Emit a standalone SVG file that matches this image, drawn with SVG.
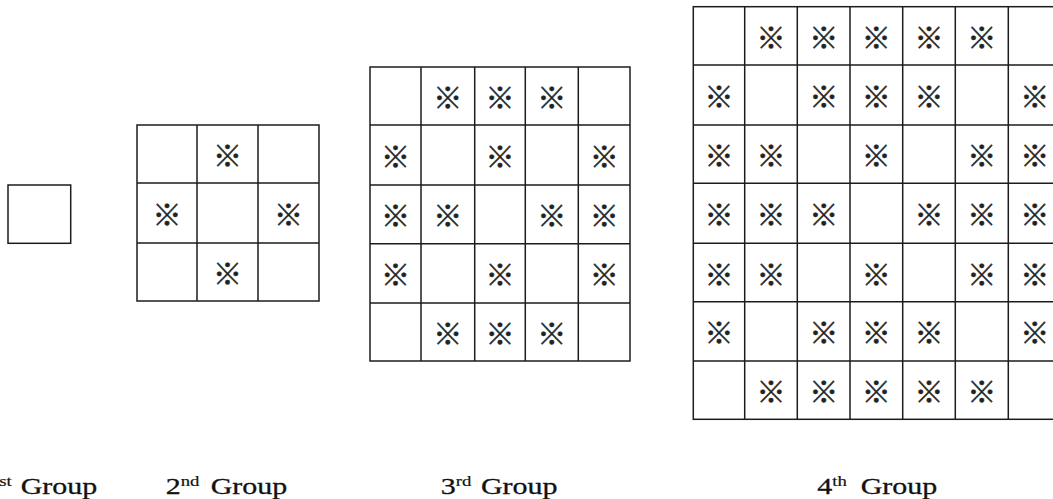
<svg xmlns="http://www.w3.org/2000/svg" width="1053" height="499" viewBox="0 0 1053 499">
<style>
.grid{fill:none;stroke:#1c1c1c;stroke-width:1.5}
.m{font-family:"Noto Sans CJK JP","DejaVu Sans",sans-serif;font-size:29px;fill:#222;stroke:#222;stroke-width:0.5;text-anchor:middle;dominant-baseline:central}
.lbl{font-family:"Liberation Serif","Times New Roman",serif;font-size:24px;fill:#111;stroke:#111;stroke-width:0.3}
.sup{font-size:15px;stroke-width:0.2}
</style>
<rect width="1053" height="499" fill="#fff"/>
<g id="group1">
<rect class="grid" x="8" y="185" width="62.7" height="58.3"/>
</g>
<g id="group2">
<rect class="grid" x="137" y="125" width="182" height="176"/>
<path class="grid" d="M197,125V301M258,125V301M137,183H319M137,243H319"/>
<text class="m" x="227.5" y="154">※</text>
<text class="m" x="167" y="213">※</text>
<text class="m" x="288.5" y="213">※</text>
<text class="m" x="227.5" y="272">※</text>
</g>
<g id="group3">
<rect class="grid" x="370" y="67" width="260" height="294"/>
<path class="grid" d="M421,67V361M474.7,67V361M525.3,67V361M578.3,67V361M370,125H630M370,185H630M370,243.7H630M370,303H630"/>
<text class="m" x="447.8" y="96">※</text>
<text class="m" x="500" y="96">※</text>
<text class="m" x="551.8" y="96">※</text>
<text class="m" x="395.5" y="155">※</text>
<text class="m" x="500" y="155">※</text>
<text class="m" x="604.2" y="155">※</text>
<text class="m" x="395.5" y="214.3">※</text>
<text class="m" x="447.8" y="214.3">※</text>
<text class="m" x="551.8" y="214.3">※</text>
<text class="m" x="604.2" y="214.3">※</text>
<text class="m" x="395.5" y="273.3">※</text>
<text class="m" x="500" y="273.3">※</text>
<text class="m" x="604.2" y="273.3">※</text>
<text class="m" x="447.8" y="332">※</text>
<text class="m" x="500" y="332">※</text>
<text class="m" x="551.8" y="332">※</text>
</g>
<g id="group4">
<rect class="grid" x="693.3" y="6.7" width="367.7" height="412.6"/>
<path class="grid" d="M744.7,6.7V419.3M797.3,6.7V419.3M850,6.7V419.3M902.7,6.7V419.3M955.3,6.7V419.3M1008.3,6.7V419.3M693.3,65H1061M693.3,125H1061M693.3,183.3H1061M693.3,243.3H1061M693.3,301.7H1061M693.3,361H1061"/>
<text class="m" x="771" y="35.8">※</text>
<text class="m" x="823.7" y="35.8">※</text>
<text class="m" x="876.3" y="35.8">※</text>
<text class="m" x="929" y="35.8">※</text>
<text class="m" x="981.8" y="35.8">※</text>
<text class="m" x="719" y="95">※</text>
<text class="m" x="823.7" y="95">※</text>
<text class="m" x="876.3" y="95">※</text>
<text class="m" x="929" y="95">※</text>
<text class="m" x="1034.7" y="95">※</text>
<text class="m" x="719" y="154.2">※</text>
<text class="m" x="771" y="154.2">※</text>
<text class="m" x="876.3" y="154.2">※</text>
<text class="m" x="981.8" y="154.2">※</text>
<text class="m" x="1034.7" y="154.2">※</text>
<text class="m" x="719" y="213.3">※</text>
<text class="m" x="771" y="213.3">※</text>
<text class="m" x="823.7" y="213.3">※</text>
<text class="m" x="929" y="213.3">※</text>
<text class="m" x="981.8" y="213.3">※</text>
<text class="m" x="1034.7" y="213.3">※</text>
<text class="m" x="719" y="272.5">※</text>
<text class="m" x="771" y="272.5">※</text>
<text class="m" x="876.3" y="272.5">※</text>
<text class="m" x="981.8" y="272.5">※</text>
<text class="m" x="1034.7" y="272.5">※</text>
<text class="m" x="719" y="331.3">※</text>
<text class="m" x="823.7" y="331.3">※</text>
<text class="m" x="876.3" y="331.3">※</text>
<text class="m" x="929" y="331.3">※</text>
<text class="m" x="1034.7" y="331.3">※</text>
<text class="m" x="771" y="390.2">※</text>
<text class="m" x="823.7" y="390.2">※</text>
<text class="m" x="876.3" y="390.2">※</text>
<text class="m" x="929" y="390.2">※</text>
<text class="m" x="981.8" y="390.2">※</text>
</g>
<g id="connectors"/>
<g id="labels">
<g transform="translate(-15.8,494) scale(1.25,1)"><text class="lbl" x="0" y="0">1<tspan class="sup" x="12" y="-8">st</tspan><tspan x="29.2" y="0">Group</tspan></text></g>
<g transform="translate(165.7,494) scale(1.25,1)"><text class="lbl" x="0" y="0">2<tspan class="sup" x="12" y="-8">nd</tspan><tspan x="36" y="0">Group</tspan></text></g>
<g transform="translate(440.7,494) scale(1.25,1)"><text class="lbl" x="0" y="0">3<tspan class="sup" x="12" y="-8">rd</tspan><tspan x="32.2" y="0">Group</tspan></text></g>
<g transform="translate(817.3,494) scale(1.25,1)"><text class="lbl" x="0" y="0">4<tspan class="sup" x="12" y="-8">th</tspan><tspan x="34.7" y="0">Group</tspan></text></g>
</g>
</svg>
